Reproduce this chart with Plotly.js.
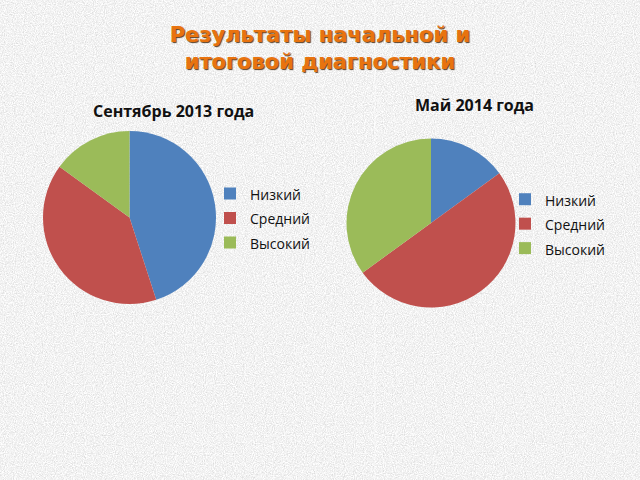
<!DOCTYPE html>
<html><head><meta charset="utf-8">
<script src="https://cdn.plot.ly/plotly-3.0.1.min.js"></script>
<style>
html,body{margin:0;padding:0;width:640px;height:480px;overflow:hidden;background:#e4e4e4;}
#chart{width:640px;height:480px;}
</style></head>
<body><div id="chart"></div>
<script>
const categories = ['Низкий', 'Средний', 'Высокий'];
const sep2013 = [45, 40, 15];
const may2014 = [15, 50, 35];
const sliceColors = ['#4F81BD', '#C0504D', '#9BBB59'];
const mainTitle = 'Результаты начальной и<br>итоговой диагностики';
const pieTitles = ['Сентябрь 2013 года', 'Май 2014 года'];

// textured grey background (decorative)
const noise = "<svg xmlns='http://www.w3.org/2000/svg' width='640' height='480'>" +
  "<filter id='n'><feTurbulence type='fractalNoise' baseFrequency='0.9' numOctaves='3' seed='3'/>" +
  "<feColorMatrix type='matrix' values='0.5 0 0 0 0.64 0.5 0 0 0 0.64 0.5 0 0 0 0.64 0 0 0 0 1'/></filter>" +
  "<rect width='100%' height='100%' filter='url(#n)'/></svg>";
document.body.style.backgroundImage = 'url("data:image/svg+xml;utf8,' + encodeURIComponent(noise) + '")';

const W = 640, H = 480;
function dom(cx, cy, r) {
  return {x: [(cx - r) / W, (cx + r) / W], y: [1 - (cy + r) / H, 1 - (cy - r) / H]};
}
// legend label text drawn at 14px while the legend row height uses a larger font
const labelsA = categories.map(c => '<span style="font-size:14px">' + c + '</span>');
const labelsB = categories.map(c => '<span style="font-size:14px">' + c + '\u200b</span>');

const traces = [
  {type: 'pie', labels: labelsA, values: sep2013, sort: false, direction: 'clockwise', rotation: 0,
   marker: {colors: sliceColors, line: {width: 0}}, textinfo: 'none', hoverinfo: 'skip',
   domain: dom(129.5, 217.5, 86.5), legend: 'legend'},
  {type: 'pie', labels: labelsB, values: may2014, sort: false, direction: 'clockwise', rotation: 0,
   marker: {colors: sliceColors, line: {width: 0}}, textinfo: 'none', hoverinfo: 'skip',
   domain: dom(431, 223, 84.5), legend: 'legend2'}
];

const legFont = {family: 'Open Sans, sans-serif', size: 16.5, color: '#111'};
const layout = {
  width: W, height: H,
  margin: {l: 0, r: 0, t: 0, b: 0},
  paper_bgcolor: 'rgba(0,0,0,0)', plot_bgcolor: 'rgba(0,0,0,0)',
  title: {text: mainTitle, x: 0.5, xanchor: 'center', y: 1 - 42 / H, yanchor: 'top',
    font: {family: 'DejaVu Sans, sans-serif', size: 21, weight: 'bold', color: '#E8730F',
      shadow: '1px 1px 1px rgba(60,30,0,0.85)'}},
  legend: {x: 210 / W, xanchor: 'left', y: 1 - 218.3 / H, yanchor: 'middle',
    bgcolor: 'rgba(0,0,0,0)', font: legFont, itemclick: false},
  legend2: {x: 505 / W, xanchor: 'left', y: 1 - 224 / H, yanchor: 'middle',
    bgcolor: 'rgba(0,0,0,0)', font: legFont, itemclick: false},
  annotations: [
    {text: pieTitles[0], x: 173 / W, y: 1 - 110.5 / H, xref: 'paper', yref: 'paper',
     xanchor: 'center', yanchor: 'middle', showarrow: false,
     font: {family: 'Open Sans, sans-serif', size: 16, weight: 'bold', color: '#111'}},
    {text: pieTitles[1], x: 474 / W, y: 1 - 105.5 / H, xref: 'paper', yref: 'paper',
     xanchor: 'center', yanchor: 'middle', showarrow: false,
     font: {family: 'Open Sans, sans-serif', size: 16, weight: 'bold', color: '#111'}}
  ],
  shapes: [
    {type: 'line', xref: 'paper', yref: 'paper', x0: 375 / W, x1: 375 / W, y0: 0, y1: 1,
     line: {color: 'rgba(255,255,255,0.6)', width: 1}, layer: 'below'}
  ]
};

Plotly.newPlot('chart', traces, layout, {displayModeBar: false, staticPlot: true});
</script>
</body></html>
